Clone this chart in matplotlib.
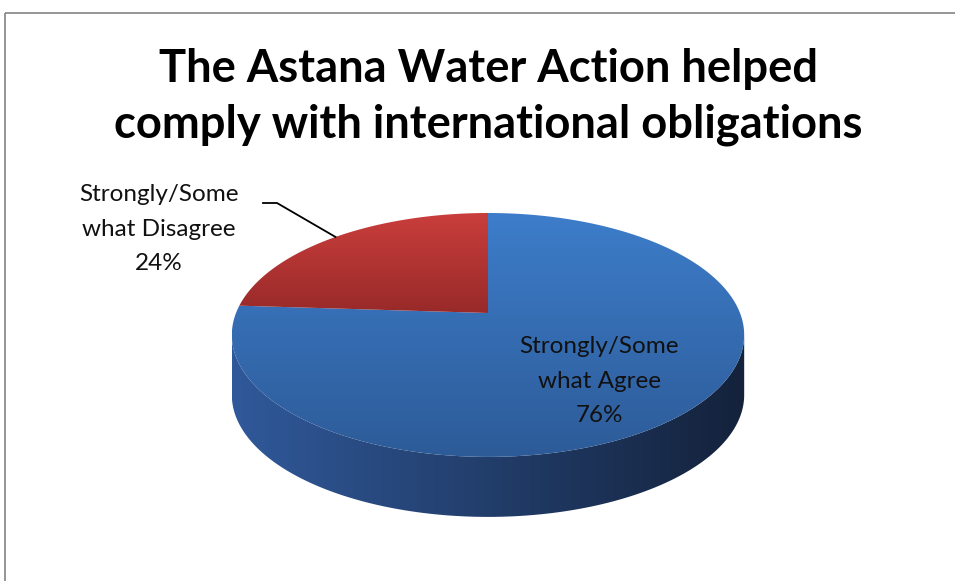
import numpy as np
import matplotlib
matplotlib.use("Agg")
import matplotlib.pyplot as plt
from matplotlib.patches import Polygon, Rectangle
from matplotlib.colors import LinearSegmentedColormap

# chart data
title = "The Astana Water Action helped\ncomply with international obligations"
categories = ["Strongly/Some\nwhat Agree", "Strongly/Some\nwhat Disagree"]
shares = [76, 24]

# styles: (top of slice, bottom of slice) colours for the lid, and the rim
lid_colors = [("#3d7dca", "#2d5b98"), ("#c93e3c", "#982a29")]
rim_colors = [("#30599a", "#14223b"), ("#a02e2d", "#5a1716")]

# layout in pixels
W, H = 955, 581
cx, cy = 488, 313       # where the pie centre lands
sx, sy = 252, 118       # horizontal / vertical scale of the disc
k = 0.18                # perspective strength (back is smaller)
depth = 60              # thickness of the pie


def project(u, v):
    d = 1 + k * v
    return cx + sx * u / d, cy - sy * v / d


fig = plt.figure(figsize=(W / 100, H / 100), dpi=100)
ax = fig.add_axes([0, 0, 1, 1])


def gradient_fill(pts, c0, c1, horizontal=False, z=2):
    patch = Polygon(pts, closed=True, facecolor="none", edgecolor="none", zorder=z)
    ax.add_patch(patch)
    x0, y0 = pts.min(axis=0)
    x1, y1 = pts.max(axis=0)
    g = np.linspace(0, 1, 256)
    img = g[None, :] if horizontal else g[:, None]
    cmap = LinearSegmentedColormap.from_list("g", [c0, c1])
    im = ax.imshow(img, cmap=cmap, extent=(x0, x1, y1, y0), aspect="auto",
                   interpolation="bilinear", zorder=z)
    im.set_clip_path(patch)


# slice angles, clockwise from 12 o'clock like Excel
fracs = np.array(shares) / sum(shares)
starts = 90 - 360 * np.concatenate([[0], np.cumsum(fracs)[:-1]])
ends = starts - 360 * fracs

# visible front part of the rim
edge = np.degrees(np.arcsin(k))
front_lo, front_hi = 180 + edge, 360 - edge

for i in range(len(shares)):
    lo, hi = ends[i], starts[i]
    for shift in (-360, 0, 360):
        a, b = max(lo + shift, front_lo), min(hi + shift, front_hi)
        if b > a:
            t = np.radians(np.linspace(a, b, 200))
            tx, ty = project(np.cos(t), np.sin(t))
            pts = np.column_stack([np.r_[tx, tx[::-1]], np.r_[ty, ty[::-1] + depth]])
            gradient_fill(pts, rim_colors[i][0], rim_colors[i][1], horizontal=True, z=2)

for i in range(len(shares)):
    t = np.radians(np.linspace(ends[i], starts[i], 300))
    px, py = project(np.cos(t), np.sin(t))
    pts = np.column_stack([np.r_[cx, px], np.r_[cy, py]])
    gradient_fill(pts, lid_colors[i][0], lid_colors[i][1], z=3)

# labels
font = ["Lato", "DejaVu Sans"]
ax.text(599, 381, f"{categories[0]}\n{shares[0]}%", ha="center", va="center",
        fontsize=17.5, family=font, color="#111111", linespacing=1.8, zorder=5)
ax.text(159, 229, f"{categories[1]}\n{shares[1]}%", ha="center", va="center",
        fontsize=17.5, family=font, color="#111111", linespacing=1.8, zorder=5)

# leader line to the middle of the Disagree slice
mid = np.radians((starts[1] + ends[1]) / 2)
lx, ly = project(np.cos(mid), np.sin(mid))
ax.plot([263, 277, lx], [203, 203, ly], color="black", lw=1.3, zorder=6)

ax.text(488, 97, title, ha="center", va="center", fontsize=32.7, fontweight="bold",
        family=font, color="black", linespacing=1.42, zorder=5)

# chart border
ax.add_patch(Rectangle((5, 13), 2000, 2000, fill=False, edgecolor="#8c8c8c", lw=1.3, zorder=1))

ax.set_xlim(0, W)
ax.set_ylim(H, 0)
ax.axis("off")

fig.savefig("out.png", dpi=100)
